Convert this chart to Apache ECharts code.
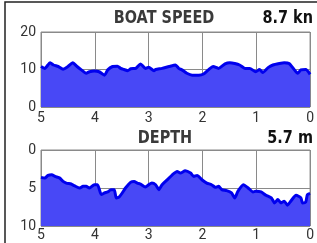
<!DOCTYPE html>
<html>
<head>
<meta charset="utf-8">
<script src="https://cdn.jsdelivr.net/npm/echarts@6/dist/echarts.min.js"></script>
<style>
  html, body { margin: 0; padding: 0; background: #fff; }
  #chart { width: 317px; height: 243px; }
</style>
</head>
<body>
<div id="chart"></div>
<script>
// time axis: minutes before now (5 .. 0)
const xTicks = [5, 4, 3, 2, 1, 0];

const speedX = [5.00, 4.93, 4.83, 4.77, 4.68, 4.59, 4.50, 4.41, 4.33, 4.25, 4.16, 4.10, 4.01, 3.92,
  3.82, 3.76, 3.67, 3.58, 3.52, 3.46, 3.39, 3.33, 3.24, 3.15, 3.06, 3.00, 2.90, 2.87, 2.75, 2.62,
  2.50, 2.44, 2.38, 2.29, 2.19, 2.07, 1.98, 1.89, 1.80, 1.70, 1.58, 1.49, 1.40, 1.31, 1.21, 1.12,
  1.01, 0.94, 0.88, 0.78, 0.69, 0.57, 0.48, 0.39, 0.29, 0.23, 0.17, 0.08, 0.00];
const speedKn = [10.8, 10.3, 11.8, 11.2, 10.8, 10.1, 10.8, 11.8, 10.8, 9.9, 9.0, 9.4, 9.6, 9.4,
  8.5, 9.9, 10.8, 10.9, 10.3, 10.0, 9.7, 10.2, 10.3, 11.5, 10.3, 10.6, 9.7, 10.0, 10.3, 10.8,
  11.2, 10.3, 9.9, 9.0, 8.5, 8.5, 8.8, 9.9, 10.8, 10.3, 11.5, 11.8, 11.6, 11.2, 10.3, 10.3,
  9.4, 10.0, 9.2, 10.5, 11.2, 11.6, 11.8, 11.6, 9.9, 9.0, 9.9, 10.0, 8.7];

const depthX = [5.00, 4.93, 4.87, 4.80, 4.74, 4.65, 4.59, 4.53, 4.44, 4.38, 4.28, 4.22, 4.16, 4.10,
  4.01, 3.95, 3.88, 3.82, 3.76, 3.70, 3.64, 3.60, 3.55, 3.49, 3.43, 3.33, 3.27, 3.21, 3.15, 3.06,
  3.00, 2.94, 2.87, 2.81, 2.75, 2.65, 2.56, 2.47, 2.41, 2.32, 2.22, 2.16, 2.10, 2.01, 1.92, 1.83,
  1.76, 1.70, 1.64, 1.55, 1.46, 1.40, 1.34, 1.24, 1.15, 1.06, 1.01, 0.91, 0.82, 0.72, 0.66, 0.60,
  0.54, 0.48, 0.42, 0.36, 0.26, 0.17, 0.14, 0.08, 0.05, 0.00];
const depthM = [3.6, 3.7, 3.35, 3.26, 3.48, 3.7, 4.13, 4.35, 4.48, 4.7, 5.0, 4.78, 4.78, 5.0,
  4.57, 4.57, 5.87, 5.65, 5.52, 5.22, 5.22, 6.3, 6.2, 5.65, 5.0, 4.22, 4.13, 4.35, 4.48, 4.87,
  4.57, 4.35, 4.57, 5.22, 4.57, 3.9, 3.26, 2.83, 3.04, 2.74, 3.04, 3.48, 3.35, 3.91, 4.35, 4.57,
  4.91, 4.78, 5.22, 5.35, 5.65, 6.3, 5.43, 4.57, 5.0, 5.52, 5.43, 5.52, 5.96, 6.3, 6.96, 6.52,
  6.96, 6.74, 7.26, 6.74, 5.96, 6.3, 6.96, 6.83, 5.87, 5.7];

const speedNow = '8.7 kn';
const depthNow = '5.7 m';

const titleFont = "bold 17px 'DejaVu Sans', sans-serif";
const labelFont = "'Roboto', 'Liberation Sans', sans-serif";
const fillColor = '#4848f6';
const lineColor = '#0000ee';

function zip(xs, ys) {
  return xs.map((x, i) => [x, ys[i]]);
}

function xAxis(idx) {
  return {
    type: 'value', gridIndex: idx, inverse: true, min: 0, max: 5, interval: 1,
    axisLine: { show: false }, axisTick: { show: false },
    axisLabel: { color: '#333', fontSize: 14, fontFamily: labelFont, margin: idx ? 2 : 4,
      formatter: v => xTicks.indexOf(v) >= 0 ? String(v) : '' },
    splitLine: { show: true, lineStyle: { color: '#8a8a8a', width: 1 } }
  };
}

function yAxis(idx, max, step, inv) {
  return {
    type: 'value', gridIndex: idx, min: 0, max: max, interval: step, inverse: inv,
    axisLine: { show: false }, axisTick: { show: false },
    axisLabel: { color: '#333', fontSize: 14, fontFamily: labelFont, margin: 5 },
    splitLine: { show: true, lineStyle: { color: '#8a8a8a', width: 1 } }
  };
}

// condensed look: squeeze the bold header text horizontally
function header(text, x, y, align, color) {
  return {
    type: 'text', x: x, y: y, scaleX: 0.85,
    style: { text: text, fill: color, font: titleFont, align: align, verticalAlign: 'middle' }
  };
}

const chart = echarts.init(document.getElementById('chart'));
chart.setOption({
  animation: false,
  grid: [
    { left: 41, top: 32, width: 272, height: 75, show: true, borderColor: '#8a8a8a', borderWidth: 1 },
    { left: 41, top: 150, width: 272, height: 76, show: true, borderColor: '#8a8a8a', borderWidth: 1 }
  ],
  xAxis: [xAxis(0), xAxis(1)],
  yAxis: [yAxis(0, 20, 10, false), yAxis(1, 10, 5, true)],
  graphic: [
    { type: 'rect', shape: { x: 5, y: 2, width: 330, height: 260 },
      style: { fill: 'none', stroke: '#222', lineWidth: 1.5 }, z: 100 },
    header('BOAT SPEED', 164, 19, 'center', '#3a3a3a'),
    header(speedNow, 313, 19, 'right', '#111'),
    header('DEPTH', 165, 139, 'center', '#3a3a3a'),
    header(depthNow, 313, 139, 'right', '#111')
  ],
  series: [
    { type: 'line', xAxisIndex: 0, yAxisIndex: 0, data: zip(speedX, speedKn),
      showSymbol: false, smooth: 0.2, lineStyle: { color: lineColor, width: 3 },
      areaStyle: { color: fillColor, opacity: 1 } },
    { type: 'line', xAxisIndex: 1, yAxisIndex: 1, data: zip(depthX, depthM),
      showSymbol: false, smooth: 0.2, lineStyle: { color: lineColor, width: 3 },
      areaStyle: { color: fillColor, opacity: 1, origin: 'end' } }
  ]
});
</script>
</body>
</html>
